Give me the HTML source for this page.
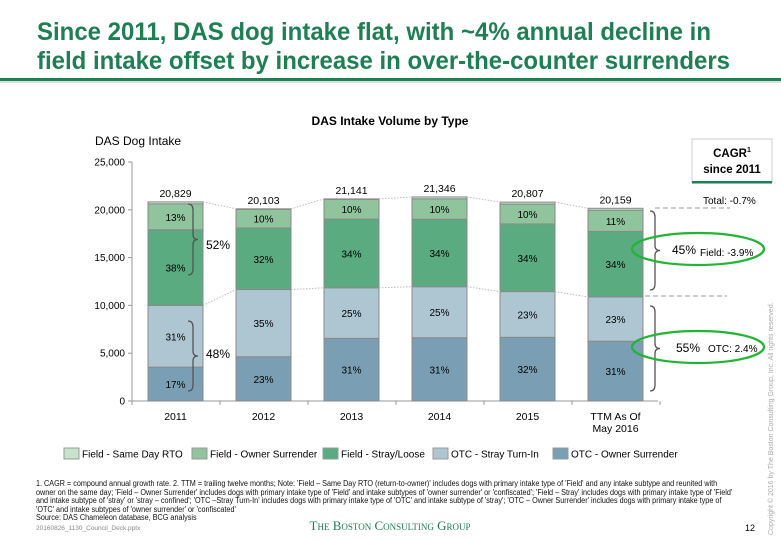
<!DOCTYPE html>
<html><head><meta charset="utf-8">
<style>
body{margin:0;background:#fff;}
#wrap{position:relative;width:781px;height:540px;overflow:hidden;font-family:"Liberation Sans",Arial,sans-serif;}
svg{position:absolute;left:0;top:0;}
#foot{position:absolute;left:36px;top:480px;width:776px;transform:scaleX(0.905);transform-origin:0 0;font-family:"Liberation Sans",sans-serif;font-size:8px;line-height:8.6px;color:#111;}
</style></head><body>
<div id="wrap">
<svg id="chart" width="781" height="540">
  <text x="37" y="40" font-family="Liberation Sans Narrow, Liberation Sans, sans-serif" font-weight="bold" font-size="25" fill="#1d7f52" textLength="674" lengthAdjust="spacingAndGlyphs">Since 2011, DAS dog intake flat, with ~4% annual decline in</text>
  <text x="37" y="69" font-family="Liberation Sans Narrow, Liberation Sans, sans-serif" font-weight="bold" font-size="25" fill="#1d7f52" textLength="693" lengthAdjust="spacingAndGlyphs">field intake offset by increase in over-the-counter surrenders</text>
  <rect x="0" y="78" width="781" height="3" fill="#1d7f52"/>
  <rect x="0" y="81.5" width="781" height="1" fill="#bbb"/>
  <text x="390" y="125" text-anchor="middle" font-family="Liberation Sans Narrow, Liberation Sans, sans-serif" font-weight="bold" font-size="12">DAS Intake Volume by Type</text>
  <text x="95" y="145" font-size="12" font-family="Liberation Sans Narrow, Liberation Sans, sans-serif">DAS Dog Intake</text>
  <g id="axes"></g>
  <g id="bars"></g>
  <g id="ann"></g>
</svg>
<div id="foot">1. CAGR = compound annual growth rate. 2. TTM = trailing twelve months; Note: 'Field – Same Day RTO (return-to-owner)' includes dogs with primary intake type of 'Field' and any intake subtype and reunited with owner on the same day; 'Field – Owner Surrender' includes dogs with primary intake type of 'Field' and intake subtypes of 'owner surrender' or 'confiscated'; 'Field – Stray' includes dogs with primary intake type of 'Field' and intake subtype of 'stray' or 'stray – confined'; 'OTC –Stray Turn-In' includes dogs with primary intake type of 'OTC' and intake subtype of 'stray'; 'OTC – Owner Surrender' includes dogs with primary intake type of 'OTC' and intake subtypes of 'owner surrender' or 'confiscated'<br>Source: DAS Chameleon database, BCG analysis</div>
</div>
<script>
const categories=["2011","2012","2013","2014","2015","TTM As Of|May 2016"];
const seriesNames=["OTC - Owner Surrender","OTC - Stray Turn-In","Field - Stray/Loose","Field - Owner Surrender","Field - Same Day RTO"];
const otcOwner=[3541,4624,6554,6617,6658,6249];
const otcStray=[6457,7036,5285,5337,4786,4637];
const fieldStray=[7915,6433,7188,7058,7074,6854];
const fieldOwner=[2708,1960,2064,2134,2081,2218];
const fieldRTO=[208,50,50,200,208,201];
const pctOtcOwner=["17%","23%","31%","31%","32%","31%"];
const pctOtcStray=["31%","35%","25%","25%","23%","23%"];
const pctFieldStray=["38%","32%","34%","34%","34%","34%"];
const pctFieldOwner=["13%","10%","10%","10%","10%","11%"];
const totalLabels=["20,829","20,103","21,141","21,346","20,807","20,159"];
const yTicks=[0,5000,10000,15000,20000,25000];
const yTickLabels=["0","5,000","10,000","15,000","20,000","25,000"];

const NS="http://www.w3.org/2000/svg";
const colors=["#7a9fb4","#aec5d2","#5aab7f","#8fc49d","#c5e3cd"];
const series=[otcOwner,otcStray,fieldStray,fieldOwner,fieldRTO];
const pcts=[pctOtcOwner,pctOtcStray,pctFieldStray,pctFieldOwner,null];
const y0=401,yTop=162,vmax=25000,x0=132,x1=658,bw=55;
const yS=v=>y0-(v/vmax)*(y0-yTop);
const xC=i=>175.5+i*88;
function mk(tag,attrs,parent,txt){const e=document.createElementNS(NS,tag);for(const k in attrs)e.setAttribute(k,attrs[k]);if(txt!==undefined)e.textContent=txt;parent.appendChild(e);return e;}
const axes=document.getElementById('axes'),bars=document.getElementById('bars'),ann=document.getElementById('ann');
let l=mk('line',{x1:x0,y1:yTop,x2:x0,y2:y0,stroke:'#999'},axes);


l=mk('line',{x1:x0,y1:y0,x2:x1,y2:y0,stroke:'#999'},axes);


yTicks.forEach((t,i)=>{
  mk('line',{x1:x0-4,x2:x0,y1:yS(t),y2:yS(t),stroke:'#999'},axes);
  const tx=mk('text',{x:x0-7,y:yS(t)+3.5,'text-anchor':'end','font-size':'10'},axes,yTickLabels[i]);
  
  
});
for(let i=0;i<=categories.length;i++){const xx=x0+i*88;mk('line',{x1:xx,x2:xx,y1:y0,y2:y0+4,stroke:'#999'},axes);}
categories.forEach((c,i)=>{
  const parts=c.split('|');
  parts.forEach((p,j)=>{
    const tx=mk('text',{x:xC(i),y:420+j*12,'text-anchor':'middle','font-size':'10.5'},axes,p);
    
    
  });
});
const tops=[],oTops=[];
categories.forEach((c,i)=>{
  let acc=0;
  series.forEach((s,k)=>{
    const ya=yS(acc),yb=yS(acc+s[i]);
    const r=mk('rect',{x:xC(i)-bw/2,y:yb,width:bw,height:ya-yb,fill:colors[k],stroke:'#8a8a8a','stroke-width':'1'},bars);
    
    
    if(pcts[k]){
      const tx=mk('text',{x:xC(i),y:(ya+yb)/2+4,'text-anchor':'middle','font-size':'10'},bars,pcts[k][i]);
      
      
    }
    acc+=s[i];
    if(k===1)oTops.push(yS(acc));
  });
  tops.push(yS(acc));
  const tl=mk('text',{x:xC(i),y:yS(acc)-5,'text-anchor':'middle','font-size':'10.5'},bars,totalLabels[i]);
  
  
});
for(let i=0;i<categories.length-1;i++){
  mk('line',{x1:xC(i)+bw/2,y1:tops[i],x2:xC(i+1)-bw/2,y2:tops[i+1],stroke:'#bbb','stroke-dasharray':'1.5,1.5'},ann);
  mk('line',{x1:xC(i)+bw/2,y1:oTops[i],x2:xC(i+1)-bw/2,y2:oTops[i+1],stroke:'#bbb','stroke-dasharray':'1.5,1.5'},ann);
}
function brace(x,ya,yb,dir){
  const ym=(ya+yb)/2,w=5*dir;
  const d=`M${x},${ya} q${w},0 ${w},6 L${x+w},${ym-5} q0,5 ${w},5 q${-w},0 ${-w},5 L${x+w},${yb-6} q0,6 ${-w},6`;
  const p=mk('path',{d:d,fill:'none',stroke:'#555','stroke-width':'1.3'},ann);
  
  
}
brace(188,204,275,1);brace(188,321,391,1);
brace(650,211,290,1);brace(650,306,391,1);
function t(x,y,s,fs,name,extra){const e=mk('text',Object.assign({x:x,y:y,'font-size':fs},extra||{}),ann,s);return e;}
t(206,249,'52%',12,'field-share-2011');
t(206,358,'48%',12,'otc-share-2011');
mk('line',{x1:655,y1:208,x2:730,y2:208,stroke:'#999','stroke-dasharray':'5,3'},ann);
mk('line',{x1:645,y1:296,x2:727,y2:296,stroke:'#999','stroke-dasharray':'5,3'},ann);
const bx=mk('rect',{x:692,y:139,width:80,height:43,fill:'#fff',stroke:'#ccc'},ann);


mk('rect',{x:692,y:181,width:80,height:2.5,fill:'#1d7f52'},ann);
t(732,157,'CAGR',11.5,'cagr-title',{'text-anchor':'middle','font-weight':'bold'}).innerHTML='CAGR<tspan font-size="7" dy="-5">1</tspan>';
t(732,173,'since 2011',11.5,'cagr-subtitle',{'text-anchor':'middle','font-weight':'bold'});
t(703,204,'Total: -0.7%',10,'total-cagr');
t(672,254,'45%',12,'field-share-ttm');
t(700,256,'Field: -3.9%',10,'field-cagr');
t(676,352,'55%',12,'otc-share-ttm');
t(708,352,'OTC: 2.4%',10,'otc-cagr');
let e1=mk('ellipse',{cx:698,cy:249,rx:66,ry:16,fill:'none',stroke:'#22b535','stroke-width':'2.3'},ann);


e1=mk('ellipse',{cx:698,cy:347,rx:66,ry:16,fill:'none',stroke:'#22b535','stroke-width':'2.3'},ann);


const legX=[64,192,323,433,553];
const legOrder=[4,3,2,1,0];
legOrder.forEach((k,j)=>{
  const r=mk('rect',{x:legX[j],y:448,width:15,height:11,fill:colors[k],stroke:'#999'},ann);
  
  
  t(legX[j]+18,457.5,seriesNames[k],10,'legend-entry');
});
t(36,530,'20160826_1130_Council_Deck.pptx',6.5,'file-name',{fill:'#888'});
t(390,530,'The Boston Consulting Group',13,'company-logo',{'text-anchor':'middle',fill:'#1d7f52','font-family':'Liberation Serif, serif','font-variant':'small-caps'});
t(745,531,'12',9,'page-number');
t(0,0,'Copyright © 2016 by The Boston Consulting Group, Inc. All rights reserved.',7,'copyright',{fill:'#aaa',transform:'translate(773,535) rotate(-90)'});
</script>
</body></html>
